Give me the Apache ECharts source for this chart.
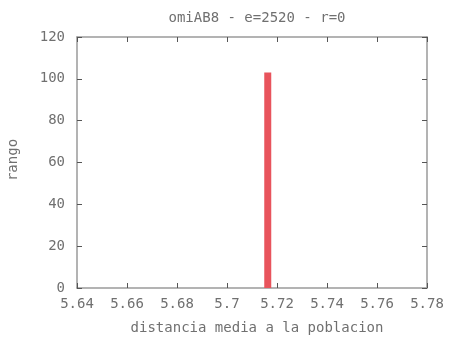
<!DOCTYPE html>
<html>
<head>
<meta charset="utf-8">
<script src="https://cdn.jsdelivr.net/npm/echarts@6/dist/echarts.min.js"></script>
<style>
  html, body { margin: 0; padding: 0; background: #ffffff; }
  #chart { width: 452px; height: 338px; }
</style>
</head>
<body>
<div id="chart"></div>
<script>
// Histogram of mean distance to the population (single impulse)
var distances = [5.7163];
var counts = [103];

var titleText = 'omiAB8 - e=2520 - r=0';
var xName = 'distancia media a la poblacion';
var yName = 'rango';

var FONT = 'DejaVu Sans Mono';
var TEXT = '#707070';
var FRAME = '#9a9a9a';
var TICK = '#555555';

var points = distances.map(function (d, i) { return [d, counts[i]]; });

function xAxisDef(pos, showLabel) {
  return {
    type: 'value', position: pos, min: 5.64, max: 5.78, interval: 0.02,
    axisLine: { show: true, onZero: false, lineStyle: { color: FRAME, width: 1.5 } },
    axisTick: { show: true, inside: true, length: 5, lineStyle: { color: TICK, width: 1 } },
    axisLabel: {
      show: showLabel, color: TEXT, fontFamily: FONT, fontSize: 14, margin: 9,
      formatter: function (v) { return String(parseFloat(v.toFixed(2))); }
    },
    splitLine: { show: false }
  };
}
function yAxisDef(pos, showLabel) {
  return {
    type: 'value', position: pos, min: 0, max: 120, interval: 20,
    axisLine: { show: true, onZero: false, lineStyle: { color: FRAME, width: 1.5 } },
    axisTick: { show: true, inside: true, length: 5, lineStyle: { color: TICK, width: 1 } },
    axisLabel: { show: showLabel, color: TEXT, fontFamily: FONT, fontSize: 14, margin: 12 },
    splitLine: { show: false }
  };
}

var chart = echarts.init(document.getElementById('chart'), null, { renderer: 'canvas' });
chart.setOption({
  animation: false,
  backgroundColor: '#ffffff',
  grid: { left: 77, right: 25, top: 37, bottom: 50 },
  title: [
    { text: titleText, left: 252, top: 6, textAlign: 'center',
      textStyle: { color: TEXT, fontFamily: FONT, fontSize: 14, fontWeight: 'normal' } },
    { text: xName, left: 252, top: 316, textAlign: 'center',
      textStyle: { color: TEXT, fontFamily: FONT, fontSize: 14, fontWeight: 'normal' } }
  ],
  graphic: [{
    type: 'text', x: 13, y: 160, rotation: Math.PI / 2,
    style: { text: yName, fill: TEXT, font: '14px "' + FONT + '"',
      textAlign: 'center', textVerticalAlign: 'middle' }
  }],
  xAxis: [xAxisDef('bottom', true), xAxisDef('top', false)],
  yAxis: [yAxisDef('left', true), yAxisDef('right', false)],
  series: [{
    type: 'bar',
    xAxisIndex: 0, yAxisIndex: 0,
    barWidth: 7,
    itemStyle: { color: '#e8545c' },
    data: points
  }]
});
</script>
</body>
</html>
